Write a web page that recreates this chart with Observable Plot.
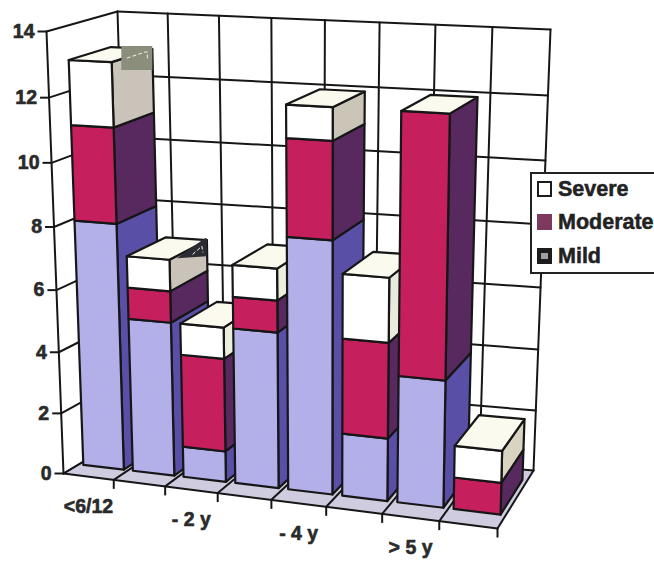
<!DOCTYPE html>
<html>
<head>
<meta charset="utf-8">
<script src="https://cdn.jsdelivr.net/npm/d3@7"></script>
<script src="https://cdn.jsdelivr.net/npm/@observablehq/plot@0.6"></script>
<style>
  html, body { margin: 0; padding: 0; background: #fff; overflow: hidden; }
  #stage { position: relative; width: 654px; height: 562px; overflow: hidden; font-family: "Liberation Sans", Arial, sans-serif; }
  #stage svg { display: block; }
  .legend { position: absolute; left: 530px; top: 172px; width: 122px; height: 98px; background: #fff; border: 2px solid #222; border-right: 0; }
  .row { position: absolute; left: 5px; display: flex; align-items: center; color: #222; font-weight: 700; font-size: 21.5px; line-height: 20px; white-space: nowrap; -webkit-text-stroke: 0.5px #222; }
  .sw { width: 15px; height: 16px; margin-right: 6px; box-sizing: border-box; flex: none; }
</style>
</head>
<body>
<div id="stage"></div>
<script>
// Counts per age group, stacked bottom to top: mild, moderate, severe.
const groups = ["<6/12", "", "- 2 y", "", "- 4 y", "", "> 5 y", ""];
const mild     = [8, 5, 1, 5, 8, 2, 4, 0];
const moderate = [3, 1, 3, 1, 3, 3, 8, 1];
const severe   = [2, 1, 1, 1, 1, 2, 0, 1];
const valueTicks = [0, 2, 4, 6, 8, 10, 12, 14];

// Face colours: front and side of every level.
const frontColors = {mild: "#b2afe9", moderate: "#c51f5d", severe: "#ffffff"};
const sideColors  = {mild: "#5a4fa6", moderate: "#58295f"};
const severeSides = ["#c9c3b9", "#c9c3b9", "#eeeedf", "#eeeedf", "#cac5b6", "#e8ebdb", "#ffffff", "#d8d4c0"];
const topColor = "#fbfaee";
const floorColor = "#cfccdf";
const ink = "#161616";

// Corners of the chart box on the page, [x, y]: a<u><v><w>.
const a000 = [63, 473], a100 = [497, 528], a010 = [46, 31], a110 = [507, 52];
const a001 = [130, 433], a101 = [533, 470], a011 = [117, 11], a111 = [550, 29];

const warpU = (t) => 0.916 * t + 0.084 * t * t;
const warpV = (t) => 0.944 * t + 0.056 * t * t;
const mix = (p, q, t) => [p[0] + (q[0] - p[0]) * t, p[1] + (q[1] - p[1]) * t];

// Perspective-like placement of a (category, value, depth) triple.
function project(u, v, w) {
  const s = warpU(u / groups.length), t = warpV(v / 14);
  const front = mix(mix(a000, a100, s), mix(a010, a110, s), t);
  const back  = mix(mix(a001, a101, s), mix(a011, a111, s), t);
  return mix(front, back, w);
}

const barGap = 0.09, depthFront = 0.23, depthBack = 0.83;

// Closed polygons for every face, in painter's order.
const faces = [];
let faceId = 0;
function addFace(corners, fill) {
  const id = faceId++;
  for (const c of [...corners, corners[0]]) faces.push({id, x: c[0], y: c[1], fill});
}

const gridLines = [];
let gridId = 0;
function addGrid(p, q) {
  const id = gridId++;
  gridLines.push({id, x: p[0], y: p[1]}, {id, x: q[0], y: q[1]});
}
for (const v of valueTicks) {
  addGrid(project(0, v, 0), project(0, v, 1));
  addGrid(project(0, v, 1), project(8, v, 1));
}
for (let u = 0; u <= groups.length; u++) {
  addGrid(project(u, 0, 1), project(u, 14, 1));
  addGrid(project(u, 0, 0), project(u, 0, 1));
}
addGrid(project(0, 0, 0), project(0, 14, 0));
addGrid(project(0, 0, 0), project(8, 0, 0));

const floor = [project(0, 0, 0), project(8, 0, 0), project(8, 0, 1), project(0, 0, 1)];
const floorFace = [...floor, floor[0]].map(([x, y]) => ({x, y}));

// Worn print marks at the rear corner of the first two bars.
const wear = [];
const wearDashes = [];
function addWear(i, fill, offsets, dashes) {
  const total = mild[i] + moderate[i] + severe[i];
  const [cx, cy] = project(i + 1 - barGap, total, depthBack);
  const id = "w" + i;
  for (const [ox, oy] of [...offsets, offsets[0]]) wear.push({id, x: cx + ox, y: cy + oy, fill});
  for (const [ox, oy] of dashes) wearDashes.push({id, x: cx + ox, y: cy + oy});
}

groups.forEach((_, i) => {
  const u0 = i + barGap, u1 = i + 1 - barGap;
  let base = 0;
  const levels = [
    {value: mild[i], front: frontColors.mild, side: sideColors.mild},
    {value: moderate[i], front: frontColors.moderate, side: sideColors.moderate},
    {value: severe[i], front: frontColors.severe, side: severeSides[i]}
  ];
  for (const {value, front, side} of levels) {
    if (!value) continue;
    const top = base + value;
    addFace([project(u1, base, depthFront), project(u1, base, depthBack), project(u1, top, depthBack), project(u1, top, depthFront)], side);
    addFace([project(u0, base, depthFront), project(u1, base, depthFront), project(u1, top, depthFront), project(u0, top, depthFront)], front);
    base = top;
  }
  addFace([project(u0, base, depthFront), project(u1, base, depthFront), project(u1, base, depthBack), project(u0, base, depthBack)], topColor);
});
addWear(0, "#8b8e7a", [[-31, -3], [0, -3], [0, 21], [-31, 21]], [[-25, 9], [-7, 3], [-5, 3], [-5, 11]]);
addWear(1, "#2b2b33", [[-30, 18], [-2, -2], [0, -2], [0, 16]], [[-14, 14], [-5, 6], [-4, 12]]);

const valueAxis = valueTicks.map((v) => {
  const [x, y] = project(0, v, 0);
  return {v, x, y};
});
const groupTicks = d3.range(1, groups.length + 1).map((u) => {
  const [x, y] = project(u, 0, 0);
  return {x, y};
});
const groupLabels = groups.map((g, i) => {
  const [x, y] = project(i + 0.5, 0, 0);
  return {g, x, y};
}).filter((d) => d.g);

const labelFont = "Liberation Sans, Arial, sans-serif";

const chart = Plot.plot({
  width: 654,
  height: 562,
  margin: 0,
  x: {type: "linear", domain: [0, 654], range: [0, 654], axis: null},
  y: {type: "linear", domain: [0, 562], range: [0, 562], axis: null},
  color: {type: "identity"},
  marks: [
    Plot.line(floorFace, {x: "x", y: "y", fill: floorColor, stroke: "none"}),
    Plot.line(gridLines, {x: "x", y: "y", z: "id", stroke: ink, strokeWidth: 2}),
    Plot.link(groupTicks, {x1: "x", y1: "y", x2: "x", y2: (d) => d.y + 9, stroke: ink, strokeWidth: 2}),
    Plot.link(valueAxis, {x1: (d) => d.x - 9, y1: "y", x2: "x", y2: "y", stroke: ink, strokeWidth: 2}),
    Plot.line(faces, {x: "x", y: "y", z: "id", fill: "fill", stroke: ink, strokeWidth: 2.2, strokeLinejoin: "round"}),
    Plot.line(wear, {x: "x", y: "y", z: "id", fill: "fill", stroke: "none"}),
    Plot.line(wearDashes, {x: "x", y: "y", z: "id", stroke: "#f4f4ec", strokeWidth: 1, strokeDasharray: "3 3"}),
    Plot.text(valueAxis, {x: "x", y: "y", text: (d) => String(d.v), dx: -12, textAnchor: "end", fontSize: 19.5, fontWeight: 700, fontFamily: labelFont, fill: "#2a2a2a", stroke: "#2a2a2a", strokeWidth: 0.6}),
    Plot.text(groupLabels, {x: "x", y: "y", text: "g", dy: 30, fontSize: 19.5, fontWeight: 700, fontFamily: labelFont, fill: "#2a2a2a", stroke: "#2a2a2a", strokeWidth: 0.6})
  ]
});

const stage = document.getElementById("stage");
stage.appendChild(chart);

// Series key laid over the right side of the chart.
const legend = document.createElement("div");
legend.className = "legend";
const legendItems = [
  {label: "Severe", top: 5, style: "background:#fff;border:2.5px solid #1c1c1c"},
  {label: "Moderate", top: 38, style: "background:#7d3a5e"},
  {label: "Mild", top: 72, style: "background:#1c1c1c;background-image:linear-gradient(#a0a0a0,#a0a0a0);background-size:7px 6px;background-position:center;background-repeat:no-repeat"}
];
for (const item of legendItems) {
  const row = document.createElement("div");
  row.className = "row";
  row.style.top = item.top + "px";
  row.innerHTML = `<span class="sw" style="${item.style}"></span><span>${item.label}</span>`;
  legend.appendChild(row);
}
stage.appendChild(legend);
</script>
</body>
</html>
